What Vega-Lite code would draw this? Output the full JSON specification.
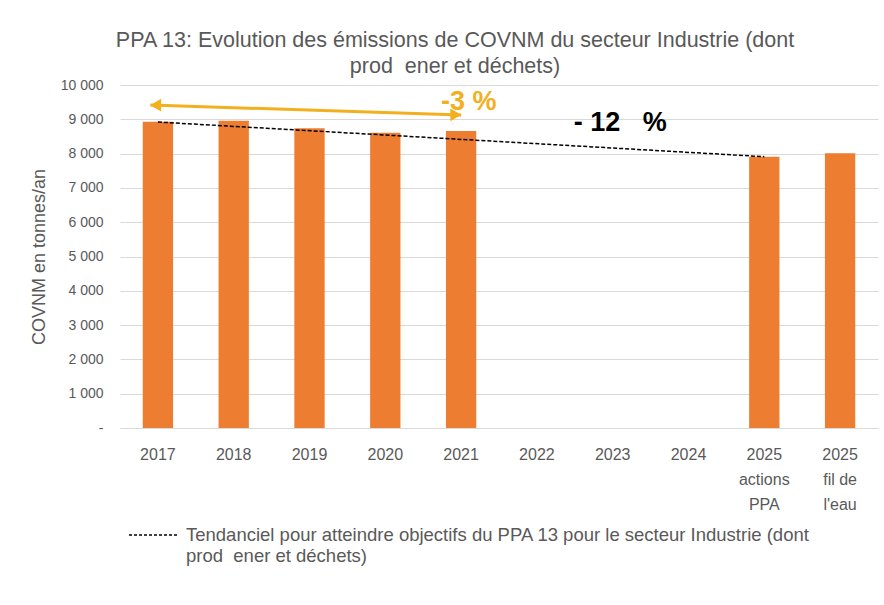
{
  "$schema": "https://vega.github.io/schema/vega-lite/v6.json",
  "autosize": {"type": "none"},
  "width": 758,
  "height": 343,
  "padding": {"left": 120, "top": 85, "right": 6, "bottom": 177},
  "background": "white",
  "config": {
    "font": "Liberation Sans",
    "view": {"stroke": null},
    "locale": {"number": {"decimal": ",", "thousands": " ", "grouping": [3], "currency": ["", " €"]}}
  },
  "title": {
    "text": ["PPA 13: Evolution des émissions de COVNM du secteur Industrie (dont", "prod\u00a0\u00a0ener et déchets)"],
    "fontSize": 21.5,
    "fontWeight": "normal",
    "color": "#595959",
    "anchor": "middle",
    "dx": -44,
    "offset": 1,
    "lineHeight": 26
  },
  "datasets": {
    "emissions": [
      {"cat": "2017", "v": 8930},
      {"cat": "2018", "v": 8960},
      {"cat": "2019", "v": 8740},
      {"cat": "2020", "v": 8610},
      {"cat": "2021", "v": 8660},
      {"cat": "2025 actions PPA", "v": 7910},
      {"cat": "2025 fil de l'eau", "v": 8010}
    ],
    "trend": [
      {"cat": "2017", "v": 8920, "s": "Tendanciel"},
      {"cat": "2025 actions PPA", "v": 7910, "s": "Tendanciel"}
    ],
    "arrow": [{"x": 0.4, "y": 9417, "x2": 4.5, "y2": 9125}],
    "heads": [
      {"x": 0.47, "y": 9412, "shape": "triangle-left"},
      {"x": 4.43, "y": 9130, "shape": "triangle-right"}
    ],
    "notes": [
      {"x": 4.6, "y": 9504, "t": "-3 %", "c": "orange"},
      {"x": 6.6, "y": 8892, "t": "-\u00a012\u00a0\u00a0\u00a0%", "c": "black"}
    ]
  },
  "resolve": {"scale": {"x": "independent"}, "axis": {"y": "independent"}},
  "layer": [
    {
      "data": {"name": "emissions"},
      "mark": {"type": "bar", "color": "#ED7D31"},
      "encoding": {
        "x": {
          "field": "cat", "type": "nominal", "sort": null,
          "scale": {"domain": ["2017", "2018", "2019", "2020", "2021", "2022", "2023", "2024", "2025 actions PPA", "2025 fil de l'eau"], "paddingInner": 0.6, "paddingOuter": 0.3},
          "axis": {
            "title": null, "labelAngle": 0, "ticks": false, "domainColor": "#D9D9D9", "domainWidth": 1,
            "labelPadding": 18, "labelFontSize": 16, "labelColor": "#595959", "labelLineHeight": 25, "labelLimit": 200,
            "labelExpr": "datum.label == '2025 actions PPA' ? ['2025', 'actions', 'PPA'] : (datum.label == \"2025 fil de l'eau\" ? ['2025', 'fil de', \"l'eau\"] : datum.label)"
          }
        },
        "y": {
          "field": "v", "type": "quantitative",
          "scale": {"domain": [0, 10000], "nice": false},
          "axis": {
            "values": [0, 1000, 2000, 3000, 4000, 5000, 6000, 7000, 8000, 9000, 10000],
            "labelOverlap": false,
            "format": ",d",
            "labelExpr": "datum.value == 0 ? '-' : datum.label",
            "gridColor": "#D9D9D9", "domain": false, "ticks": false, "labelPadding": 17,
            "labelColor": "#595959", "labelFontSize": 14,
            "title": "COVNM en tonnes/an", "titleFontSize": 18, "titleFontWeight": "normal", "titleColor": "#595959", "titlePadding": 12
          }
        }
      }
    },
    {
      "data": {"name": "trend"},
      "mark": {"type": "line", "strokeDash": [4, 2], "strokeWidth": 1.5},
      "encoding": {
        "x": {
          "field": "cat", "type": "nominal", "sort": null,
          "scale": {"domain": ["2017", "2018", "2019", "2020", "2021", "2022", "2023", "2024", "2025 actions PPA", "2025 fil de l'eau"], "paddingInner": 0.6, "paddingOuter": 0.3},
          "axis": null
        },
        "y": {"field": "v", "type": "quantitative", "scale": {"domain": [0, 10000], "nice": false}, "axis": null},
        "stroke": {
          "field": "s", "type": "nominal",
          "scale": {"range": ["#000000"]},
          "legend": {
            "orient": "none", "legendX": 8, "legendY": 424, "title": null,
            "symbolType": "stroke", "symbolSize": 2500, "symbolStrokeWidth": 1.5, "symbolDash": [3, 2], "symbolStrokeColor": "#000000",
            "labelFontSize": 18.5, "labelColor": "#595959", "labelLimit": 900, "labelOffset": 6,
            "labelExpr": "['Tendanciel pour atteindre objectifs du PPA 13 pour le secteur Industrie (dont', 'prod\u00a0\u00a0ener et déchets)']"
          }
        }
      }
    },
    {
      "data": {"name": "arrow"},
      "mark": {"type": "rule", "color": "#F2B01E", "strokeWidth": 3},
      "encoding": {
        "x": {"field": "x", "type": "quantitative", "scale": {"domain": [0, 10], "nice": false, "zero": false}, "axis": null},
        "x2": {"field": "x2"},
        "y": {"field": "y", "type": "quantitative", "scale": {"domain": [0, 10000], "nice": false}, "axis": null},
        "y2": {"field": "y2"}
      }
    },
    {
      "data": {"name": "heads"},
      "mark": {"type": "point", "filled": true, "color": "#F2B01E", "opacity": 1, "size": 160},
      "encoding": {
        "x": {"field": "x", "type": "quantitative", "scale": {"domain": [0, 10], "nice": false, "zero": false}, "axis": null},
        "y": {"field": "y", "type": "quantitative", "scale": {"domain": [0, 10000], "nice": false}, "axis": null},
        "shape": {"field": "shape", "type": "nominal", "scale": null, "legend": null}
      }
    },
    {
      "data": {"name": "notes"},
      "mark": {"type": "text", "fontSize": 27, "fontWeight": "bold", "baseline": "middle", "align": "center"},
      "encoding": {
        "x": {"field": "x", "type": "quantitative", "scale": {"domain": [0, 10], "nice": false, "zero": false}, "axis": null},
        "y": {"field": "y", "type": "quantitative", "scale": {"domain": [0, 10000], "nice": false}, "axis": null},
        "text": {"field": "t"},
        "color": {"field": "c", "type": "nominal", "scale": {"domain": ["orange", "black"], "range": ["#F2B01E", "#000000"]}, "legend": null}
      }
    }
  ]
}
